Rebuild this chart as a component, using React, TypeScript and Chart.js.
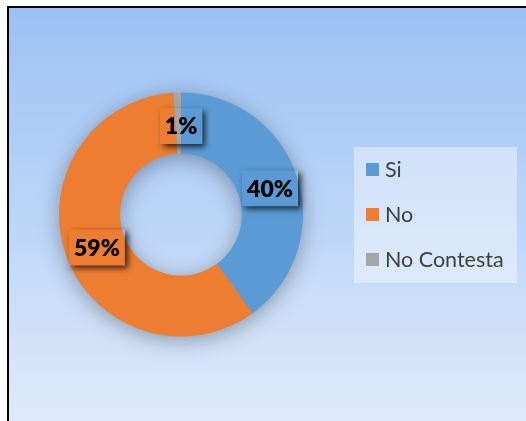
import { useEffect, useRef } from "react";
import { Chart, registerables } from "chart.js";
Chart.register(...registerables);

const categories = ["Si", "No", "No Contesta"];
const values = [40, 59, 1];
const colors = ["#5B9BD5", "#ED7D31", "#A5A5A5"];

const total = values.reduce((a, b) => a + b, 0);
const percentLabels = values.map((v) => Math.round((v / total) * 100) + "%");

const backgroundPlugin = {
  id: "bgFrame",
  beforeDraw(chart: any) {
    const { ctx, width, height } = chart;
    ctx.save();
    const g = ctx.createLinearGradient(0, 8, 0, height);
    g.addColorStop(0, "#9CC2F4");
    g.addColorStop(0.5, "#BBD5F7");
    g.addColorStop(1, "#DEEAFA");
    ctx.fillStyle = g;
    ctx.fillRect(9, 8, width - 9, height - 8);
    ctx.fillStyle = "#000";
    ctx.fillRect(7, 6, width - 7, 2);
    ctx.fillRect(7, 6, 2, height - 6);
    ctx.restore();
  },
  beforeDatasetsDraw(chart: any) {
    const meta = chart.getDatasetMeta(0);
    const arc = meta.data[0];
    if (!arc) return;
    const { ctx } = chart;
    const { x, y, outerRadius, innerRadius } = arc.getProps(["x", "y", "outerRadius", "innerRadius"], false);
    ctx.save();
    ctx.shadowColor = "rgba(0,0,0,0.35)";
    ctx.shadowBlur = 22;
    ctx.shadowOffsetY = 4;
    ctx.beginPath();
    ctx.arc(x, y, outerRadius - 1, 0, Math.PI * 2);
    ctx.arc(x, y, innerRadius + 1, 0, Math.PI * 2, true);
    ctx.fillStyle = "#7f8fa0";
    ctx.fill("evenodd");
    ctx.restore();
  },
};

const labelPlugin = {
  id: "sliceLabels",
  afterDatasetsDraw(chart: any) {
    const { ctx, width, height } = chart;
    const meta = chart.getDatasetMeta(0);
    ctx.save();
    ctx.font = "800 23px Lato";
    ctx.textAlign = "center";
    ctx.textBaseline = "middle";
    meta.data.forEach((arc: any, i: number) => {
      const c = arc.getCenterPoint(false);
      const nudge = i === 2 ? 3 : 2;
      const px = c.x + nudge;
      const py = c.y + nudge;
      const text = percentLabels[i];
      const w = ctx.measureText(text).width + 10;
      const h = 36;
      const bx = px - w / 2;
      const by = py - h / 2;
      ctx.save();
      ctx.beginPath();
      ctx.rect(0, 0, width, height);
      ctx.rect(bx, by, w, h);
      ctx.clip("evenodd");
      ctx.shadowColor = "rgba(0,0,0,0.75)";
      ctx.shadowBlur = 6;
      ctx.shadowOffsetX = 10000 + 3;
      ctx.shadowOffsetY = 3;
      ctx.fillStyle = "#000";
      ctx.fillRect(bx - 10000, by, w, h);
      ctx.restore();
      ctx.fillStyle = "#000";
      ctx.fillText(text, px, py + 1);
    });
    ctx.restore();
  },
};

const legendPlugin = {
  id: "customLegend",
  afterDraw(chart: any) {
    const { ctx } = chart;
    ctx.save();
    ctx.fillStyle = "rgba(255,255,255,0.4)";
    ctx.fillRect(354, 147, 163, 136);
    ctx.font = "21.5px Lato";
    ctx.textBaseline = "middle";
    ctx.textAlign = "left";
    const labels: string[] = chart.data.labels;
    labels.forEach((lab, i) => {
      const cy = 169 + i * 45;
      ctx.fillStyle = colors[i];
      ctx.fillRect(366, cy - 6, 13, 13);
      ctx.fillStyle = "#404040";
      ctx.fillText(lab, 385, cy + 1);
    });
    ctx.restore();
  },
};

export default function App() {
  const ref = useRef<HTMLCanvasElement | null>(null);
  useEffect(() => {
    if (!ref.current) return;
    const chart = new Chart(ref.current, {
      type: "doughnut",
      data: {
        labels: categories,
        datasets: [
          {
            data: values,
            backgroundColor: colors,
            borderWidth: 0,
          },
        ],
      },
      options: {
        animation: false,
        responsive: true,
        maintainAspectRatio: false,
        cutout: "50%",
        layout: { padding: { left: 59, right: 223, top: 92.5, bottom: 84.5 } },
        plugins: {
          legend: { display: false },
          tooltip: { enabled: false },
        },
      },
      plugins: [backgroundPlugin, labelPlugin, legendPlugin],
    });
    return () => chart.destroy();
  }, []);
  return (
    <div style={{ position: "absolute", left: 0, top: 0, width: 526, height: 421 }}>
      <canvas ref={ref} />
    </div>
  );
}
